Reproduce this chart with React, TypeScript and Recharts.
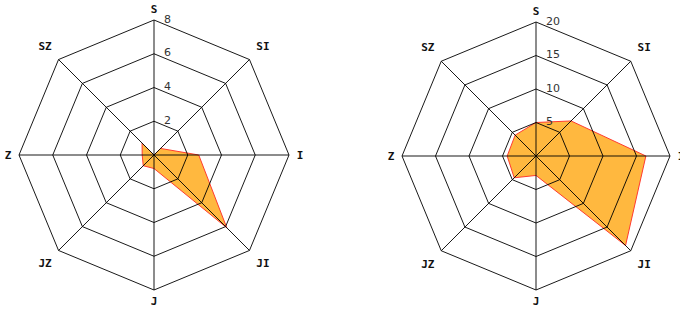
import React from 'react';
import { RadarChart, Radar, PolarGrid, PolarAngleAxis, PolarRadiusAxis } from 'recharts';

const directions = ['S', 'SI', 'I', 'JI', 'J', 'JZ', 'Z', 'SZ'];
const leftValues = [0, 0.55, 2.65, 6.1, 0.8, 0.9, 0.7, 1.0];
const rightValues = [5, 7.4, 16.4, 18.9, 2.9, 4.6, 4.3, 4.4];
const leftTicks = [0, 2, 4, 6, 8];
const rightTicks = [0, 5, 10, 15, 20];

const leftData = directions.map((d, i) => ({ dir: d, value: leftValues[i] }));
const rightData = directions.map((d, i) => ({ dir: d, value: rightValues[i] }));

const makeAngleTick = (cx: number, cy: number, r: number) => (props: any) => {
  const { x, y, payload } = props;
  const dx = x - cx;
  const dy = y - cy;
  const len = Math.sqrt(dx * dx + dy * dy) || 1;
  const diagonal = Math.abs(dx) > 1 && Math.abs(dy) > 1;
  const off = r + (diagonal ? 19 : 11);
  return (
    <text
      x={cx + (dx / len) * off}
      y={cy + (dy / len) * off}
      textAnchor="middle"
      dominantBaseline="central"
      fontFamily="DejaVu Sans Mono"
      fontWeight="bold"
      fontSize={11}
      fill="#111"
    >
      {payload.value}
    </text>
  );
};

const radiusTick = (props: any) => {
  const { x, y, payload } = props;
  if (payload.value === 0) return <g />;
  return (
    <text
      x={x + 10}
      y={y - 1}
      textAnchor="start"
      dominantBaseline="central"
      fontFamily="DejaVu Sans"
      fontSize={11}
      fill="#333"
    >
      {payload.value}
    </text>
  );
};

// series underneath, grid + axes drawn on a second chart stacked on top
function Panel({ data, ticks, cx, cy, r }: any) {
  const domain = [ticks[0], ticks[ticks.length - 1]];
  const common = { width: 340, height: 310, data, cx, cy, outerRadius: r, margin: { top: 0, right: 0, bottom: 0, left: 0 } };
  return (
    <div style={{ position: 'relative', width: 340, height: 310 }}>
      <div style={{ position: 'absolute', left: 0, top: 0 }}>
        <RadarChart {...common}>
          <PolarAngleAxis dataKey="dir" tick={false} tickLine={false} axisLine={false} />
          <PolarRadiusAxis angle={90} domain={domain} ticks={ticks} axisLine={false} tickLine={false} tick={false} />
          <Radar dataKey="value" fill="#FFB83F" fillOpacity={1} stroke="#FF3B30" strokeWidth={1}
            isAnimationActive={false} />
        </RadarChart>
      </div>
      <div style={{ position: 'absolute', left: 0, top: 0 }}>
        <RadarChart {...common}>
          <PolarGrid gridType="polygon" stroke="#000" strokeOpacity={0.9} />
          <PolarAngleAxis dataKey="dir" tick={makeAngleTick(cx, cy, r)} tickLine={false} axisLine={false} />
          <PolarRadiusAxis angle={90} domain={domain} ticks={ticks} tickCount={ticks.length}
            axisLine={false} tickLine={false} tick={radiusTick} />
          <Radar dataKey="value" fill="none" fillOpacity={0} stroke="none" isAnimationActive={false} />
        </RadarChart>
      </div>
    </div>
  );
}

export default function App() {
  return (
    <div style={{ position: 'absolute', left: 0, top: 0, width: 680, height: 310, background: '#fff', display: 'flex' }}>
      <Panel data={leftData} ticks={leftTicks} cx={154} cy={155} r={135} />
      <Panel data={rightData} ticks={rightTicks} cx={196} cy={156} r={134} />
    </div>
  );
}
